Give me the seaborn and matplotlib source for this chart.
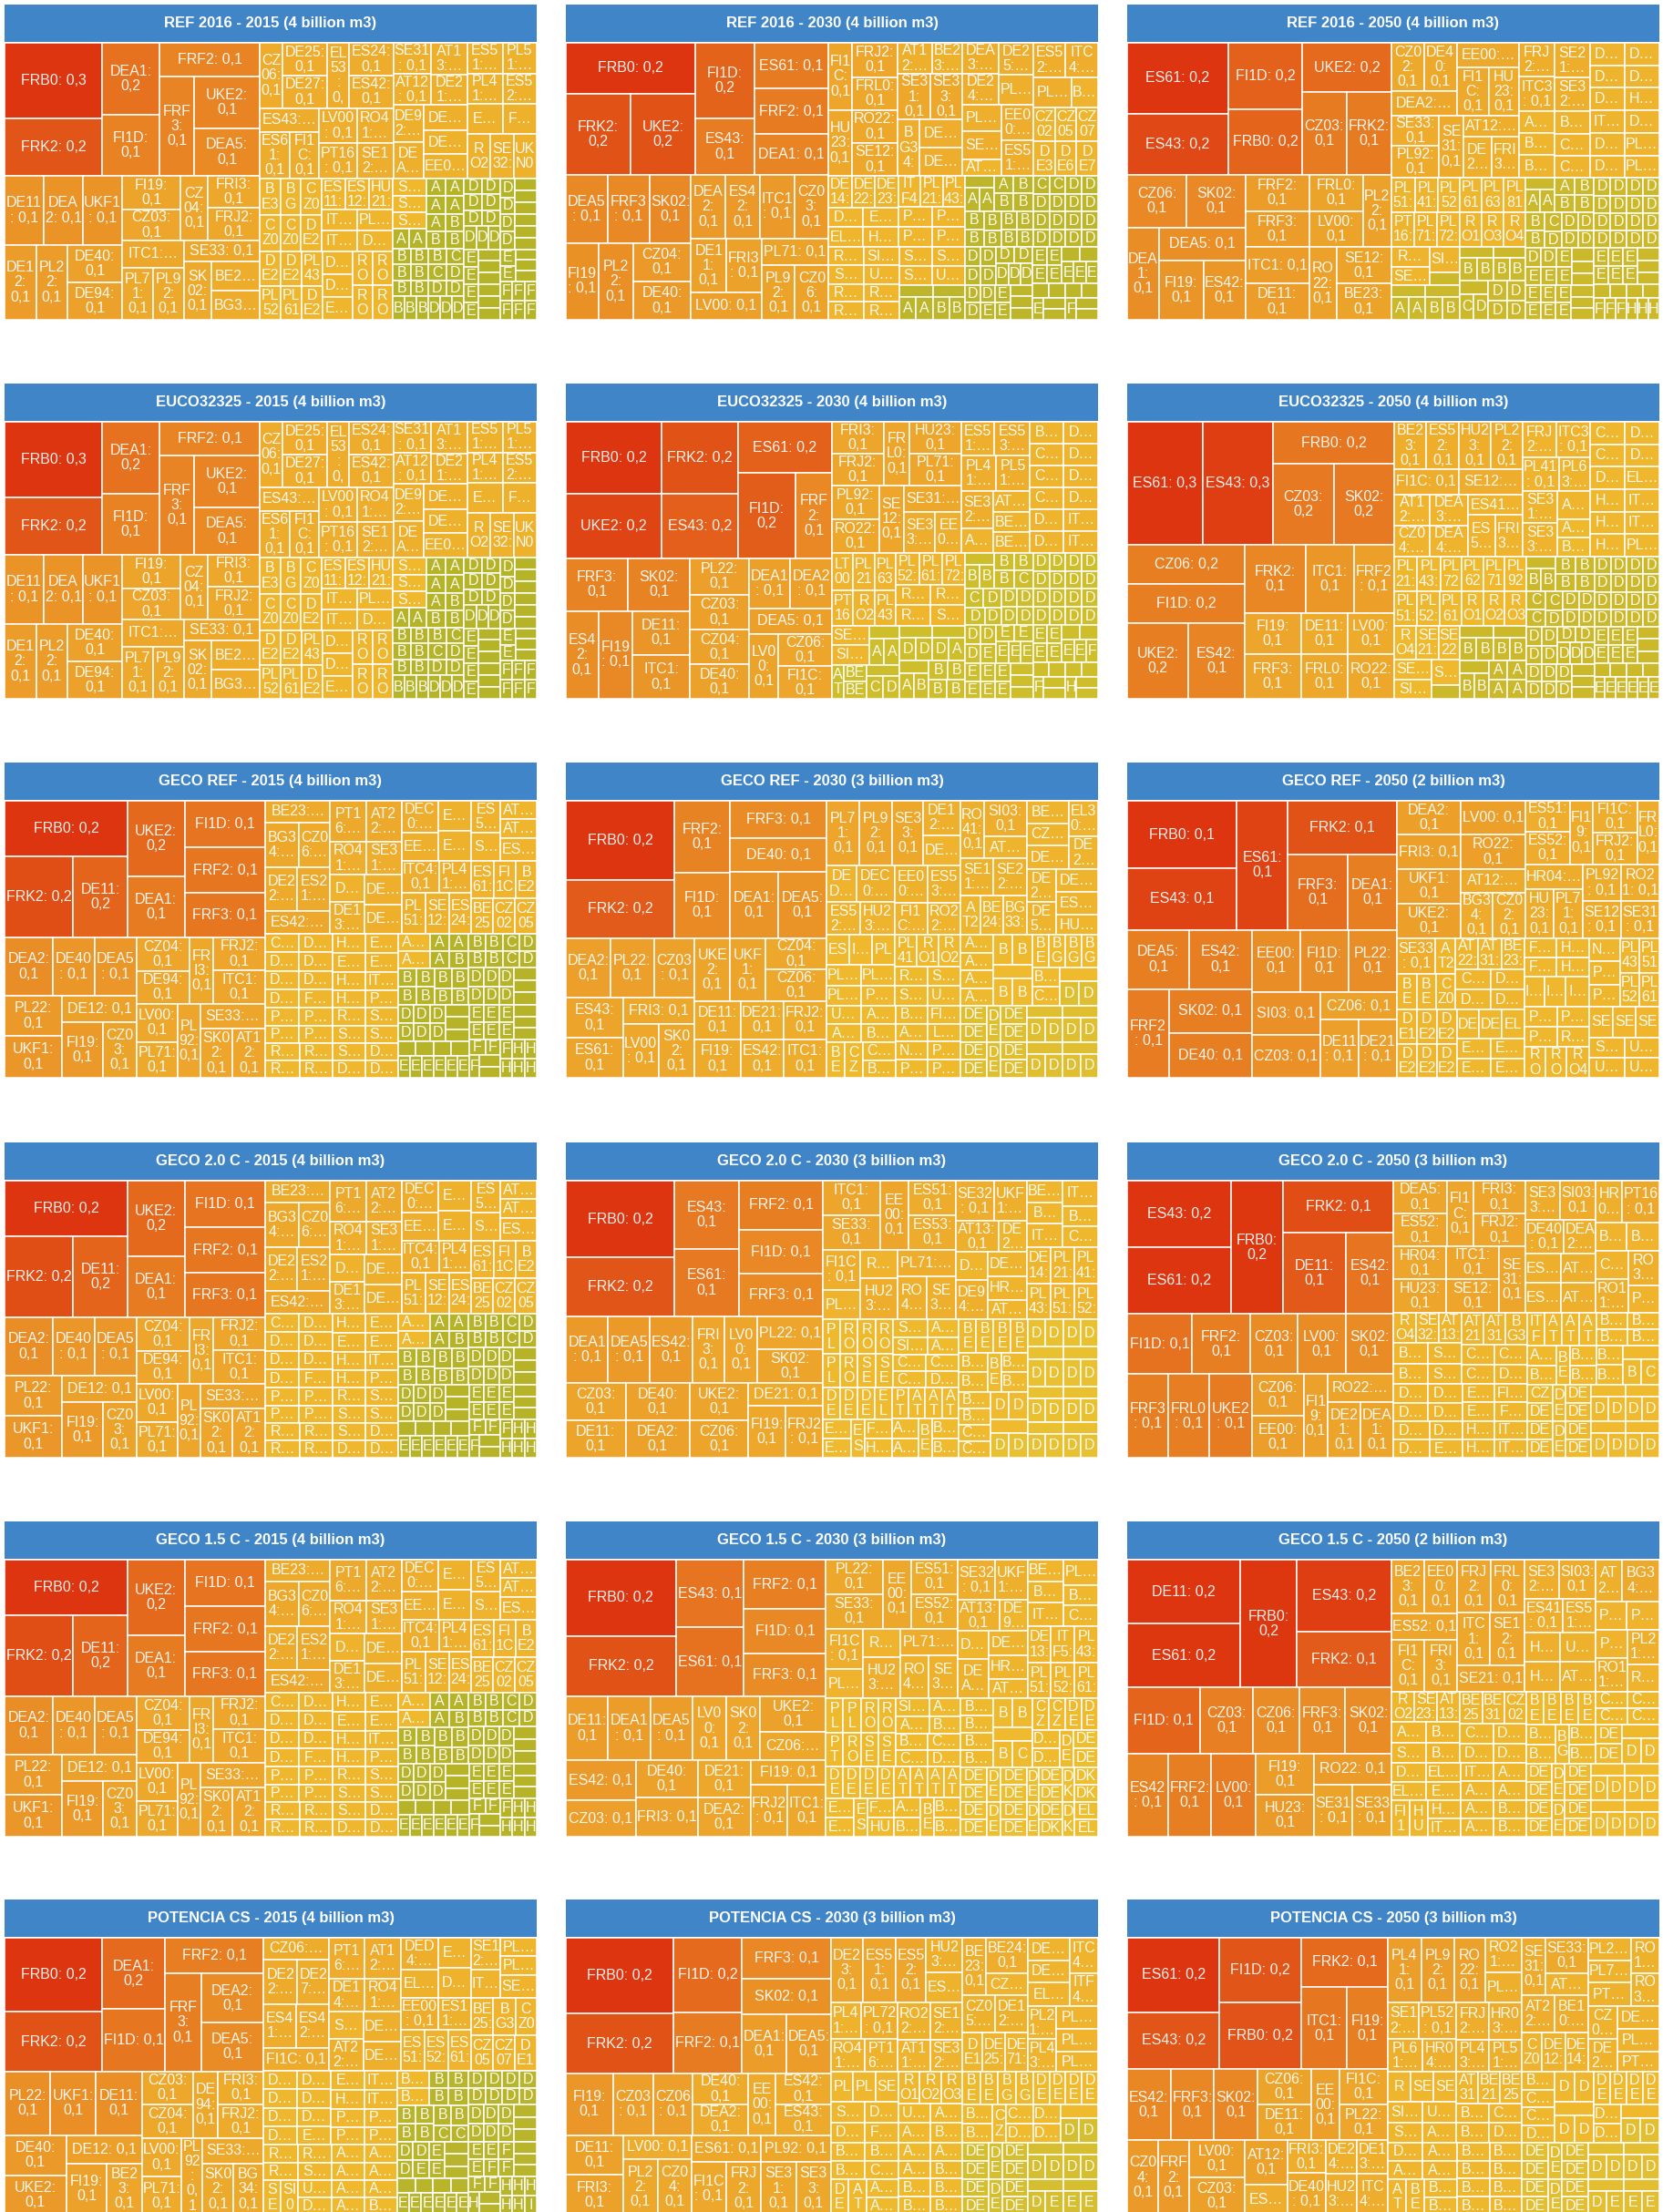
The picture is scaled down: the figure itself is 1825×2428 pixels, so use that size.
import matplotlib
matplotlib.use("Agg")
import matplotlib.pyplot as plt
from matplotlib.font_manager import FontProperties
from matplotlib.textpath import TextToPath
import numpy as np
import seaborn as sns

# values below are read off the cell areas in the picture, in million m3
# in the shapes an int is a run of cells laid out by value, ("|", a, b) is side by side, ("-", a, b) is stacked
# ---------------------------------- shared lists ----------------------------------
regions = """AT11 AT12 AT13 AT21 AT22 AT31 AT32 AT33 AT34 BE10 BE21 BE22 BE23 BE24 BE25 BE31 BE32 BE33 BE34 BE35
BG31 BG32 BG33 BG34 BG41 BG42 CZ01 CZ02 CZ03 CZ04 CZ05 CZ06 CZ07 CZ08 DE11 DE12 DE13 DE14 DE21 DE22 DE23 DE24 DE25
DE26 DE27 DE30 DE40 DE50 DE60 DE71 DE72 DE73 DE80 DE91 DE92 DE93 DE94 DEA1 DEA2 DEA3 DEA4 DEA5 DEB1 DEB2 DEB3 DEC0
DED2 DED4 DED5 DEE0 DEF0 DEG0 DK01 DK02 DK03 DK04 DK05 EE00 EL30 EL41 EL42 EL43 EL51 EL52 EL53 EL54 EL61 EL63 EL64
ES11 ES12 ES13 ES21 ES22 ES23 ES24 ES30 ES41 ES42 ES43 ES51 ES52 ES53 ES61 ES62 ES70 FI19 FI1C FI1D FRB0 FRC1 FRF1
FRF2 FRF3 FRG0 FRH0 FRI1 FRI3 FRJ1 FRJ2 FRK1 FRK2 FRL0 HR03 HR04 HU10 HU21 HU22 HU23 HU31 HU32 HU33 ITC1 ITC3 ITC4
ITF1 ITF3 ITF4 ITF5 ITG1 ITH3 ITH5 ITI1 ITI4 LT00 LU00 LV00 NL11 NL21 NL33 NL41 PL21 PL22 PL41 PL43 PL51 PL52 PL61
PL63 PL71 PL72 PL92 PT11 PT16 PT17 RO11 RO12 RO21 RO22 RO31 RO41 RO42 SE11 SE12 SE21 SE22 SE23 SE31 SE32 SE33 SI03
SI04 SK01 SK02 SK03 SK04 UKC1 UKD3 UKE2 UKF1 UKG3 UKI3 UKJ1 UKK1 UKM2 UKN0""".split()

tail_green = [13, 13, 13, 13, 13, 13, 13, 13, 13, 13, 11, 11, 11, 11, 11, 11, 11, 11, 11, 11, 11, 11, 11, 11,
              11, 11, 11, 11, 11, 11, 11, 11, 11, 11, 11, 11, 11, 11, 10, 10, 10, 10, 10, 10, 10, 10, 10, 10,
              10, 10, 10, 10, 10, 10, 10, 10, 10, 10, 9, 9, 9, 9, 9, 9, 9, 9, 9, 9]
tail_mid = [22, 22, 22, 22, 22, 22, 20, 20, 20, 20, 20, 20, 20, 20, 20, 20, 18, 18, 18, 18, 18, 18, 18, 18, 18, 18,
            18, 18, 16, 16, 16, 16, 16, 16, 16, 16, 16, 16, 16, 16]

# ---------------------------------- REF 2016 / EUCO 2015 ----------------------------------
ref15_names = """FRB0 FRK2 DEA1 FI1D FRF2 FRF3 UKE2 DEA5 DE11 DEA2 UKF1 DE12 PL22 DE40 DE94 FI19 CZ03 CZ04 FRI3 FRJ2
ITC1 PL71 PL92 SE33 SK02 BE23 BG34
CZ06 DE25 DE27 EL53 ES24 ES42 ES43 ES61 FI1C LV00 PT16 RO41 SE12
SE31 AT12 AT13 DE21 DE92 DEA3 DEA4 DE71 EE00 ES51 PL41 PL51 ES52 ES53 FRL0 RO21 SE32 UKN0
BE31 BG33 CZ02 CZ05 CZ07 DE22 ES11 ES12 HU21 ITC3 ITF5 PL21 DE13 DE23 DE24 PL43 PL52 PL61 DE26 DE50 DE73 EL30 RO11 RO12 RO31 RO42
SE11 SE21 SE22""".split()
ref15_top = [287, 221, 162, 137, 133, 133, 133, 122, 106, 106, 106, 92, 92, 80, 80, 77, 70, 68, 66, 66,
             65, 63, 63, 64, 62, 55, 55]
ref15_shape = [[[2, 2], [1, [1, 2]]], [[3, [("|", 1, 1), 2]], [[2, [1, 2]], [[1, 2], [1, [1, 2]]]]]]
ref15_q1 = [58, 58, 56, 56, 56, 56, 55, 55, 54, 52, 52, 50, 50]
ref15_q2 = [46, 46, 45, 44, 44, 43, 43, 42, 42, 42, 42, 41, 41, 41, 40, 40, 40, 40]
ref15_q3 = [29, 29, 29, 29, 29, 29, 29, 29, 29, 29, 29, 29, 28, 28, 28, 28, 28, 28, 27, 27, 27, 27, 27, 27, 27, 27]
ref15_q4 = [22, 22, 22] + tail_green

# ---------------------------------- REF 2016 2030 ----------------------------------
ref30_names = """FRB0 FRK2 UKE2 FI1D ES43 ES61 FRF2 DEA1 DEA5 FRF3 SK02 FI19 PL22 CZ04 DE40 DEA2 ES42 ITC1 CZ03 DE11 FRI3 LV00
PL71 PL92 CZ06
FI1C FRJ2 FRL0 HU23 RO22 SE12 AT12 BE23 SE31 SE33 BG34 DE12 DE21
DEA3 DE24 DE25 PL51 PL52 SE32 AT31 EE00 ES51 ES52 ITC4 PL41 BE10 CZ02 CZ05 CZ07 DE30 DE60 DE71
DE14 DE22 DE23 DE26 EL43 ES24 HU22 ITF4 PL21 PL43 PL61 PL63 PL72 PT11 RO11 SE11 SI04 UKN0 RO12 RO31 RO41 RO42 SE21 SE22 SE23 UKC1
AT21 AT22 AT32 BE21 BE25 BG31""".split()
ref30_top = [250, 200, 200, 169, 127, 129, 129, 116, 108, 108, 108, 96, 100, 85, 85, 83, 83, 83, 83, 72, 72, 74,
             69, 69, 69]
ref30_shape = [[[1, 2], [2, 3]], [[3, [("|", 1, 1), 2]], [[2, 2], [[2, 1], 3]]]]
ref30_q1 = [60, 60, 58, 58, 58, 58, 40, 36, 56, 56, 46, 46, 46]
ref30_q2 = [42, 43, 43, 40, 40, 42, 25, 43, 43, 42, 43, 43, 30, 28, 28, 28, 28, 28, 28]
ref30_q3 = [28, 28, 28, 26, 26, 26, 26, 26, 26, 26, 26, 26, 25, 25, 25, 25, 25, 25, 24, 24, 24, 24, 24, 24, 24, 24,
            15, 15, 15, 14, 14, 14]

# ---------------------------------- REF 2016 2050 ----------------------------------
ref50_names = """ES61 ES43 FI1D FRB0 UKE2 CZ03 FRK2 CZ06 SK02 DEA1 DEA5 FI19 ES42 FRF2 FRF3 ITC1 DE11 FRL0 LV00 PL22 RO22 SE12 BE23
CZ02 DE40 DEA2 EE00 FI1C HU23 SE33 PL92 SE31 AT12 DE21 FRI3
FRJ2 ITC3 SE21 SE32 AT22 BG32 BG33 BG34 CZ05 CZ07 DE12 DE13 DE14 DE22 DE23 HU21 ITF4 DE24 DE25 DE26 PL21 PL43 PL51
PL41 PL52 PT16 PL71 PL72 PL61 PL63 PL81 RO11 RO31 RO41 RO21 SE22 SI03 UKF1
AT13 AT21 AT31 AT32 BE10 BE21 BE22 BE24 BE25 BE31 BG31 BG41 CZ01 CZ04 DE27 DE30 DE50 DE60 DE71 DE72""".split()
ref50_top = [275, 237, 188, 184, 170, 141, 141, 120, 120, 113, 110, 100, 96, 88, 88, 88, 88, 75, 75, 79, 77, 76, 76]
ref50_shape = [[[2, 2], [1, 2]], [[2, [1, [1, 2]]], [[2, 2], [[2, 1], [1, 2]]]]]
ref50_q1 = [60, 60, 62, 59, 59, 56, 56, 58, 58, 46, 44, 44]
ref50_q2 = [46, 47, 47, 45, 29, 29, 31, 31, 30, 30, 30, 30, 30, 30, 30, 30, 30, 30, 30, 30, 30, 30]
ref50_q3 = [31, 31, 28, 30, 30, 29, 29, 29, 29, 29, 29, 29, 30, 27, 30, 15, 15, 15, 15, 15, 15, 15, 15, 15, 15,
            14, 14, 14, 14, 14, 14, 14, 14, 14, 14]

# ---------------------------------- EUCO32325 2030 ----------------------------------
euco30_names = """FRB0 UKE2 FRK2 ES43 ES61 FI1D FRF2 FRF3 SK02 ES42 FI19 DE11 ITC1 PL22 CZ03 CZ04 DE40 DEA1 DEA2 DEA5 LV00 CZ06 FI1C
FRI3 FRJ2 FRL0 HU23 PL71 PL92 RO22 SE12 SE31 SE33 EE00
ES51 ES53 PL41 PL51 SE32 AT11 AT12 BE10 BE21 BE22 CZ02 CZ05 DE12 DE13 DE14 CZ07 DE21 DE22 DE23 ITC3 ITF4
LT00 PL21 PL63 PT16 RO21 PL43 PL52 PL61 PL72 RO31 RO41 RO11 SE22 SE21 SI03
AT13 AT21 AT31 AT32 BE23 BE25 BG31 CZ04 DE24 DE25 DE26 DE27 DE30 DE50""".split()
euco30_top = [260, 232, 206, 184, 181, 185, 115, 123, 123, 107, 112, 95, 95, 80, 78, 76, 76, 78, 78, 78, 72, 65, 65]
euco30_shape = [[[2, 2], [1, 2]],
                [[2, [("|", 1, 1), ("-", 1, 1)]],
                 [("-", ("-", 1, 1), ("-", 1, 1)), ("-", ("-", ("|", 1, 1), 1), [1, 2])]]]
euco30_q1 = [62, 62, 62, 62, 62, 60, 60, 62, 58, 48, 40]
euco30_q2 = [42, 45, 45, 44, 44, 29, 29, 28, 28, 28, 28, 28, 28, 28, 28, 28, 28, 28, 28, 28, 28]
euco30_q3 = [30, 30, 30, 29, 29, 28, 28, 28, 27, 27, 27, 27, 27, 27, 27, 15, 15, 15, 15, 15, 15, 14, 14, 14, 14, 14,
             14, 14, 14, 14, 14, 14, 14, 14, 13, 13, 13]

# ---------------------------------- EUCO32325 2050 ----------------------------------
euco50_names = """ES61 ES43 FRB0 CZ03 SK02 CZ06 FI1D UKE2 ES42 FRK2 ITC1 FRF2 FI19 DE11 LV00 FRF3 FRL0 RO22
BE23 ES52 FI1C HU23 PL22 SE12 AT12 CZ04 DEA3 DEA4 ES41 ES53 FRI3
FRJ2 ITC3 PL41 PL63 SE31 SE33 AT13 AT22 BG34 CZ02 CZ05 DE12 DE13 DE14 EL43 HU21 HU22 HU23 ITC4 ITF4 PL51
PL21 PL43 PL72 PL51 PL52 PL61 PL62 PL71 PL92 RO11 RO21 RO31 RO41 SE21 SE22 SE32 SI03 SK03
AT21 AT31 BE10 BE21 BE22 BE24 BG31 BG32 BG33 BG41""".split()
euco50_top = [359, 333, 196, 189, 189, 178, 178, 178, 165, 160, 126, 106, 90, 75, 75, 96, 80, 80]
euco50_shape = [[2, [1, 2]], [[("-", 1, 1), 2], [3, ("-", 3, 3)]]]
euco50_q1 = [59, 59, 62, 59, 59, 62, 43, 43, 45, 45, 44, 44, 44]
euco50_q2 = [46, 47, 47, 41, 41, 45, 35, 24, 24, 30, 30, 30, 30, 30, 30, 30, 30, 30, 30, 30, 30]
euco50_q3 = [31, 31, 28, 30, 30, 29, 29, 29, 29, 29, 29, 29, 29, 29, 28, 28, 28, 28, 15, 15, 15, 15, 15, 15, 15,
             14, 14, 14, 14, 14, 14, 14]

# ---------------------------------- GECO 2015 (all three scenarios) ----------------------------------
geco15_names = """FRB0 FRK2 DE11 UKE2 DEA1 FI1D FRF2 FRF3 DEA2 DE40 DEA5 PL22 UKF1 DE12 FI19 CZ03 CZ04 DE94 FRI3 FRJ2 ITC1
LV00 PL71 PL92 SE33 SK02 AT12
BE23 BG34 CZ06 DE22 ES21 ES42 PT16 AT22 RO41 SE31 DE26 DE13 DE24 DE50
DEC0 EE00 EL53 ES11 ITC4 PL41 PL51 SE12 ES24 ES53 SE32 AT21 AT31 ES52 ES61 FI1C BE21 BE25 CZ02 CZ05
CZ07 DE14 DE21 DE23 DE25 DE27 DE30 FRL0 HR04 EL43 ES12 ES51 HU23 HU21 ITF5 PL21 PL43 PL52 PL61 PL63 RO11 RO21 RO22 RO31
RO42 SE11 SE21 SE22 SE23 DE60 DE71 DE72""".split()
geco15_top = [262, 216, 172, 168, 135, 145, 142, 140, 107, 94, 94, 90, 93, 76, 88, 72, 68, 68, 61, 65, 68,
              60, 57, 65, 62, 62, 62]
geco15_shape = [[[1, 2], [2, 3]], [[3, [2, [1, 2]]], [[[2, 1], 2], [("|", 2, 1), [1, 2]]]]]
geco15_q1 = [54, 58, 54, 54, 56, 58, 56, 56, 46, 46, 36, 42, 42, 42]
geco15_q2 = [46, 40, 38, 38, 46, 40, 38, 38, 36, 36, 32, 26, 26, 32, 32, 32, 30, 30, 30, 30]
geco15_q3 = [24, 24, 24, 24, 24, 24, 24, 24, 24, 24, 24, 24, 23, 23, 23, 23, 23, 23, 23, 23, 23, 23,
             22, 22, 22, 22, 22, 22, 22, 22, 22, 22]
geco15_q4 = [21, 21] + tail_green

# ---------------------------------- POTENCIA 2015 ----------------------------------
pot15_names = """FRB0 FRK2 DEA1 FI1D FRF2 FRF3 DEA2 DEA5 PL22 UKF1 DE11 DE40 UKE2 DE12 FI19 BE23 CZ03 CZ04 DE94 FRI3 FRJ2
LV00 PL71 PL92 SE33 SK02 BG34
CZ06 DE22 DE27 ES41 ES42 FI1C PT16 AT12 DE14 RO41 SE31 AT22 DE21 DE50
DED4 EL53 ES41 DEC0 EE00 ES11 ES51 ES52 ES61 SE12 ITC1 PL41 PL51 SE32 BE25 BG33 CZ02 CZ05 CZ07 DE13
DE23 DE24 DE25 DE26 DE30 DE60 DE71 EL43 ES24 HU21 ITC4 ITF5 PL21 PL43 PL61 PT11 RO11 RO21 RO31 SE11 SE21 SI03 UKN0 DE72""".split()
pot15_top = [278, 222, 172, 150, 136, 136, 117, 117, 112, 112, 112, 96, 93, 82, 80, 69, 65, 65, 65, 58, 58,
             60, 58, 62, 60, 60, 60]
pot15_shape = [[[2, 2], [1, [1, 2]]], [[3, [2, [1, 2]]], [[[2, 1], 2], [("|", 2, 1), [1, 2]]]]]

# ---------------------------------- GECO REF 2030 ----------------------------------
gref30_names = """FRB0 FRK2 FRF2 FI1D FRF3 DE40 DEA1 DEA5 DEA2 PL22 CZ03 ES43 ES61 FRI3 LV00 SK02 UKE2 UKF1 CZ04 CZ06
DE11 FI19 DE21 ES42 FRJ2 ITC1
PL71 PL92 SE33 DE12 DEA3 DED2 DEC0 ES52 HU23 EE00 ES53 FI1C RO22
RO41 SI03 AT13 SE11 SE22 AT21 BE24 BG33 BE31 CZ02 DE14 EL30 DE24 DE26 DE50 DE60 ES12 HU21
ES51 ITF5 PL21 PL51 PL61 PL63 PT11 PL41 RO11 RO21 RO31 SE12 SE31 UKD3 UKF1 AT12 AT22 BG34 BE23 CZ05 CZ07 BE21 BE25 AT31
FI1D LT00 NL11 PL43 PL52 PT16""".split()
gref30_top = [322, 237, 152, 138, 134, 123, 120, 120, 99, 99, 90, 86, 86, 72, 72, 72, 84, 84, 72, 72, 66, 66, 62, 62, 62, 62]
gref30_shape = [[2, [2, [("-", 1, 1), 2]]], [[3, [2, [1, 2]]], [[2, 2], [2, [2, 2]]]]]
mid_q1 = [80, 80, 75, 48, 42, 42, 52, 42, 42, 46, 46, 40, 40]
mid_q2 = [52, 56, 36, 46, 46, 30, 34, 34, 36, 36, 38, 38, 36, 36, 36, 36, 36, 32]
mid_q3 = [26, 26, 26, 26, 26, 26, 26, 26, 26, 26, 24, 24, 24, 24, 24, 24, 24, 24, 24, 24, 22, 22, 22, 22, 22, 22,
          22, 22, 22, 22]

# ---------------------------------- GECO REF 2050 ----------------------------------
gref50_names = """FRB0 ES43 ES61 FRK2 FRF3 DEA1 DEA5 ES42 FRF2 SK02 DE40 EE00 FI1D PL22 SI03 CZ03 CZ06 DE11 DE21
DEA2 FRI3 LV00 RO22 UKF1 UKE2 AT12 BG34 CZ02
ES51 ES52 FI19 FI1C FRJ2 FRL0 HR04 HU23 PL71 PL92 SE12 RO21 SE31
SE33 AT21 BE10 BE21 CZ05 AT22 AT31 BE23 CZ04 DE12 DE14 DE22 DE13 DE23 DE24 DE25 DE26 DE27 DE50 DE60 EL30 ES11 ES12 ES21 ES24
FRI1 FRF1 HR03 HU21 ITC3 ITC4 ITF4 NL11 PL21 PL41 PL43 PL51 PL52 PL61 PL63 PL72 PT11 RO11 RO31 RO41 RO42 SE11 SE21 SE32
SK03 UKD3 UKG3 UKN0""".split()
gref50_top = [282, 256, 254, 224, 172, 141, 141, 141, 143, 140, 140, 115, 115, 115, 112, 112, 82, 85, 85]
gref50_shape = [[2, [1, [1, 2]]], [[2, [1, 2]], [3, [("-", 1, 1), [1, 2]]]]]
gref50_q1 = [83, 83, 83, 84, 85, 84, 58, 56, 56]
gref50_q2 = [53, 56, 56, 53, 54, 54, 55, 54, 54, 54, 54, 54, 54]
gref50_q3 = [52, 27, 27, 27, 27, 27, 27, 27, 27, 27, 26, 26, 26, 26, 26, 26, 26, 26, 25, 25, 25, 25, 25, 25, 25]
gref50_q4 = [24, 24, 24, 24, 24, 24, 27, 27, 27, 26, 26, 26, 26, 26, 25, 25, 25, 25, 25, 25, 27, 27, 27, 27, 27, 27, 27, 27]

# ---------------------------------- GECO 2.0 C 2030 ----------------------------------
g20_30_names = """FRB0 FRK2 ES43 ES61 FRF2 FI1D FRF3 DEA1 DEA5 ES42 FRI3 LV00 PL22 SK02 CZ03 DE11 DE40 DEA2 UKE2 CZ06 DE21 FI19 FRJ2
ITC1 SE33 EE00 ES51 ES53 FI1C PL92 RO22 HU23 PL71 RO41 SE31
SE32 UKF1 AT13 DE22 DE25 DE94 DE12 HR04 AT21 BE23 BG33 ITC4 ITF4 BG34 CZ04 DE14 PL21 PL41 PL43 PL51 PL52
PL72 RO21 PL63 RO11 RO12 RO31 SE12 SE21 SE22 SI03 AT12 AT22 CZ02 CZ05 CZ07 DE13 DE23 DE24 DE26 EL30 EL43 ES11 ES24 FI1D HU21 PT11""".split()
g20_30_top = [320, 248, 170, 170, 157, 142, 137, 107, 107, 107, 83, 83, 81, 85, 86, 86, 92, 92, 84, 84, 66, 74, 74]
g20_30_shape = [[2, [2, 3]], ("-", [3, [("|", 1, 1), ("-", 1, 1)]], [[2, 2], [2, [1, 2]]])]
g30_q1 = [76, 76, 76, 62, 62, 58, 42, 42, 60, 60, 48, 48]
g30_q2 = [59, 51, 51, 34, 34, 48, 36, 36, 30, 30, 30, 33, 34, 28, 28, 33, 33, 33, 33, 33, 33]
g30_q3 = [23, 23, 23, 23, 23, 23, 23, 23, 23, 23, 21, 21, 21, 21, 21, 21, 21, 21, 21, 21, 21, 21,
          20, 20, 20, 20, 20, 20, 20, 20, 20, 20, 20, 20]

# ---------------------------------- GECO 2.0 C 2050 ----------------------------------
g20_50_names = """ES43 ES61 FRB0 FRK2 DE11 ES42 FI1D FRF2 CZ03 LV00 SK02 FRF3 FRL0 UKE2 CZ06 EE00 FI19 RO22 DE21 DEA1
DEA5 ES52 FI1C FRI3 FRJ2 HR04 HU23 ITC1 SE12 SE31
SE33 SI03 DE40 DEA2 ES41 ES53 AT12 AT22 HR03 PT16 BE23 BG34 CZ02 RO11 RO31 PL63
RO41 SE32 AT13 BE10 BE21 SE21 SE23 AT21 AT31 BG33 CZ04 CZ05 CZ07 DE12 DE13 DE14 DE22 DE23 DE24 DE25 DK01 EL30 ES11 ES12 FI1D
FRI1 HU21 HU22 ITC3 ITC4 ITF4""".split()
g50_q1 = [68, 68, 68, 65, 65, 68, 68, 65, 68, 68]
g50_q2 = [52, 54, 51, 42, 41, 41, 40, 40, 43, 60, 33, 35, 35, 42, 42, 33]
g50_q3 = [27, 27, 27, 27, 27, 27, 27, 27, 27, 27, 25, 25, 25, 25, 25, 25, 25, 25, 25, 25,
          23, 23, 23, 23, 23, 23, 23, 23, 23, 23]
g20_50_top = [268, 268, 266, 220, 200, 150, 151, 134, 111, 111, 111, 132, 133, 138, 83, 83, 77, 70, 71, 71]
g20_50_shape = [[2, [1, [1, 2]]], ("-", [2, 3], [[1, 2], [2, [1, [1, 2]]]])]

# ---------------------------------- GECO 1.5 C 2030 ----------------------------------
g15_30_names = """FRB0 FRK2 ES43 ES61 FRF2 FI1D FRF3 DE11 DEA1 DEA5 LV00 SK02 UKE2 CZ06 ES42 CZ03 DE40 FRI3 DE21 DEA2 FI19 FRJ2 ITC1
PL22 SE33 EE00 ES51 ES52 FI1C PL92 RO22 HU23 PL71 RO41 SE31
SE32 UKF1 AT13 DE94 DE12 DEA3 DE14 HR04 AT21 BE23 BG33 ITC4 PL41 BG34 CZ04 DE13 ITF5 PL43 PL51 PL52 PL61
PL21 PL72 PT16 RO21 RO11 RO31 SE12 SE21 SI03 AT12 AT22 BE21 BE25 CZ02 CZ05 DE22 DE23 DE24 DE26 DE50 EL30 ES11 ES24 FI1D HU21""".split()
g15_30_top = [326, 259, 179, 183, 157, 142, 137, 105, 105, 105, 84, 84, 91, 72, 109, 99, 91, 94, 77, 80, 73, 74, 77]
g15_30_shape = [[2, [2, 3]], ("-", [3, [("|", 1, 1), ("-", 1, 1)]], [[2, 2], [2, [1, 2]]])]

# ---------------------------------- GECO 1.5 C 2050 ----------------------------------
g15_50_names = """DE11 ES61 FRB0 ES43 FRK2 FI1D CZ03 CZ06 FRF3 SK02 ES42 FRF2 LV00 FI19 HU23 RO22 SE31 SE33
BE23 EE00 ES52 FI1C FRI3 FRJ2 FRL0 ITC1 SE12 SE21
SE32 SI03 ES41 ES51 HR03 HR04 UKE2 AT12 AT22 BG34 PL63 PT16 PL72 RO11 PL21 RO12
RO21 SE23 AT13 AT21 SK03 BG33 BE21 BE25 BE31 CZ02 CZ04 DE12 DE13 DE14 DE22 EL30 EL43 ES11 FI1D HU21 HU22 ITC3 ITF5""".split()
g15_50_top = [278, 276, 276, 260, 204, 185, 135, 117, 117, 117, 130, 137, 142, 90, 94, 91, 77, 77]
g15_50_shape = [[2, [1, 2]], ("-", [2, 3], [[1, 2], [2, [1, 2]]])]

# ---------------------------------- POTENCIA 2030 ----------------------------------
pot30_names = """FRB0 FRK2 FI1D FRF2 FRF3 SK02 DEA1 DEA5 FI19 CZ03 CZ06 DE40 DEA2 EE00 ES42 ES43 DE11 FRI3 LV00 PL22 CZ04 ES61 PL92
FI1C FRJ2 SE31 SE33
DE23 ES51 ES52 HU23 ES53 PL41 PL72 RO41 PT16 RO22 SE12 AT11 SE32
BE23 BE24 CZ02 CZ05 DE12 DE14 DE25 DE71 DE24 DE26 EL30 ITC4 ITF4 PL21 PL43 PL51 PL52 PL61
PL63 PL71 SE21 SE22 DE13 DE22 FRL0 RO11 RO21 RO31 UKF1 AT12 AT22 BE21 BE25 BG33 BG34 CZ07 DE27""".split()
pot30_top = [312, 247, 195, 161, 138, 121, 101, 101, 111, 94, 94, 65, 65, 65, 65, 65, 87, 87, 63, 73, 72, 72, 72, 70, 70, 70, 70]
pot30_shape = [[2, [2, [("-", 1, 1), 2]]],
               ("-", [3, [[("-", 1, 1), 1], ("-", 1, 1)]],
                [[("-", 1, 1), [1, 2]], ("-", ("|", 1, 1), [2, 2])])]

# ---------------------------------- POTENCIA 2050 ----------------------------------
pot50_names = """ES61 ES43 FI1D FRB0 FRK2 ITC1 FI19 ES42 FRF3 SK02 CZ06 DE11 EE00 FI1C PL22 CZ04 FRF2 LV00 CZ03 AT12 ES41 FRI3 DE40
DE24 DE13 HU23 ITC4
PL41 PL92 RO22 RO21 PL63 SE12 PL52 PL61 HR04 FRJ2 HR03 PL43 PL51
SE31 SE33 AT21 AT22 BE10 CZ02 DE12 DE14 PL21 PL71 PT16 RO11 RO31 CZ05 DE21 DEA3 PL72 PT11
RO41 SE21 SE32 SI03 SK03 UKF1 AT13 AT31 BE21 BE25 BG33 BG34 CZ07 DE22 DE23""".split()
pot50_top = [259, 199, 200, 204, 161, 142, 128, 116, 116, 116, 71, 71, 76, 65, 65, 87, 87, 78, 78, 72, 48, 48, 60, 40, 40, 48, 48]
pot50_shape = [[[2, 2], [1, 2]],
               ("-", [3, [("-", 1, 1), [1, ("-", 1, 1)]]], [[("|", 1, 1), ("-", 1, 1)], 8])]

scenarios = ["REF 2016", "EUCO32325", "GECO REF", "GECO 2.0 C", "GECO 1.5 C", "POTENCIA CS"]
years = [2015, 2030, 2050]
billions = [[4, 4, 4], [4, 4, 4], [4, 3, 2], [4, 3, 3], [4, 3, 2], [4, 3, 3]]

# names, top values, shape of the top, right part lists, label factor, value where olive starts, olive colour
OLIVE = 16
MID = 19
panels = [
    [ref15_names, ref15_top, ref15_shape, ref15_q1, ref15_q2, ref15_q3, ref15_q4, 1.0, OLIVE, "#B5B428"],
    [ref30_names, ref30_top, ref30_shape, ref30_q1, ref30_q2, ref30_q3, tail_green, 1.0, OLIVE, "#BEB62A"],
    [ref50_names, ref50_top, ref50_shape, ref50_q1, ref50_q2, ref50_q3, tail_green, 0.895, OLIVE, "#CBB92B"],
    [ref15_names, ref15_top, ref15_shape, ref15_q1, ref15_q2, ref15_q3, ref15_q4, 1.0, OLIVE, "#B5B428"],
    [euco30_names, euco30_top, euco30_shape, euco30_q1, euco30_q2, euco30_q3, tail_green, 0.9, OLIVE, "#CFBE2B"],
    [euco50_names, euco50_top, euco50_shape, euco50_q1, euco50_q2, euco50_q3, tail_green, 0.86, OLIVE, "#CBB92B"],
    [geco15_names, geco15_top, geco15_shape, geco15_q1, geco15_q2, geco15_q3, geco15_q4, 0.92, OLIVE, "#B6B328"],
    [gref30_names, gref30_top, gref30_shape, mid_q1, mid_q2, mid_q3, tail_mid, 0.75, MID, "#DFBF30"],
    [gref50_names, gref50_top, gref50_shape, gref50_q1, gref50_q2, gref50_q3, gref50_q4, 0.5, 0, "#EFBE30"],
    [geco15_names, geco15_top, geco15_shape, geco15_q1, geco15_q2, geco15_q3, geco15_q4, 0.92, OLIVE, "#B6B328"],
    [g20_30_names, g20_30_top, g20_30_shape, g30_q1, g30_q2, g30_q3, tail_mid, 0.75, MID, "#E8C030"],
    [g20_50_names, g20_50_top, g20_50_shape, g50_q1, g50_q2, g50_q3, tail_mid, 0.65, 0, "#EFBE30"],
    [geco15_names, geco15_top, geco15_shape, geco15_q1, geco15_q2, geco15_q3, geco15_q4, 0.92, OLIVE, "#B6B328"],
    [g15_30_names, g15_30_top, g15_30_shape, g30_q1, g30_q2, g30_q3, tail_mid, 0.75, MID, "#EDBF30"],
    [g15_50_names, g15_50_top, g15_50_shape, g50_q1, g50_q2, g50_q3, tail_mid, 0.7, 0, "#EFBE30"],
    [pot15_names, pot15_top, pot15_shape, geco15_q1, geco15_q2, geco15_q3, geco15_q4, 0.88, OLIVE, "#B8B42B"],
    [pot30_names, pot30_top, pot30_shape, mid_q1, mid_q2, mid_q3, tail_mid, 0.78, MID, "#D5BE30"],
    [pot50_names, pot50_top, pot50_shape, mid_q1, mid_q2, mid_q3, tail_mid, 0.79, MID, "#E3BE30"],
]

# ---------------------------------- drawing ----------------------------------
FIG_W, FIG_H = 1825, 2428
COL_X = [5, 621, 1237]
ROW_Y = [5, 421, 837, 1254, 1670, 2085]
PANEL_W = 584
TITLE_H = 41
CELLS_TOP = 42
CELLS_H = 304
LINE_PX = 16.7
FONT_PT = 11.5

sns.set_theme(style="white")
plt.rcParams["font.family"] = ["Liberation Sans", "DejaVu Sans"]

ramp = sns.blend_palette(["#F0BD2E", "#ECA02A", "#E67520", "#DD3510"], n_colors=101)
font = FontProperties(family="Liberation Sans", size=FONT_PT)
t2p = TextToPath()
char_w = {}


def tw(s):
    total = 0.0
    for c in s:
        if c not in char_w:
            char_w[c] = t2p.get_text_width_height_descent(c, font, False)[0] * 100 / 72
        total += char_w[c]
    return total


def wrap(text, avail):
    lines = []
    ends = []
    pos = 0
    while pos < len(text):
        rest = text[pos:]
        if tw(rest) <= avail:
            lines.append(rest)
            ends.append(len(text))
            break
        n = 0
        while n < len(rest) and tw(rest[:n + 1]) <= avail:
            n += 1
        n = max(n, 1)
        sp = rest[:n + 1].rfind(" ")
        if sp > 0:
            lines.append(rest[:sp])
            pos += sp + 1
        else:
            lines.append(rest[:n])
            pos += n
        ends.append(pos)
    return lines, ends


def fit_label(text, w, h):
    max_lines = int(h / LINE_PX)
    if max_lines < 1 or w < 8:
        return ""
    avail = w - 2
    lines, ends = wrap(text, avail)
    if len(lines) <= max_lines:
        return "\n".join(lines)
    start = ends[max_lines - 2] if max_lines > 1 else 0
    rest = text[start:]
    best = ""
    for n in range(1, len(rest) + 1):
        if tw(rest[:n]) + tw("…") <= avail:
            best = rest[:n].rstrip() + "…"
    kept = lines[:max_lines - 1] + [best if best else lines[max_lines - 1]]
    return "\n".join(kept)


def count(node):
    if isinstance(node, int):
        return node
    if isinstance(node, tuple):
        return count(node[1]) + count(node[2])
    return sum(count(n) for n in node)


def cut(first, total, rect, direction=None):
    x, y, w, h = rect
    share = first / total
    if direction is None:
        direction = "|" if w >= h else "-"
    if direction == "|":
        return (x, y, w * share, h), (x + w * share, y, w * (1 - share), h)
    return (x, y, w, h * share), (x, y + h * share, w, h * (1 - share))


def auto(vals, i, j, rect, out):
    if j - i == 1:
        out.append((i,) + rect)
        return
    part = vals[i:j]
    total = sum(part)
    run = np.cumsum(part)[:-1]
    k = int(np.argmin(np.abs(run - total / 2)))
    a, b = cut(run[k], total, rect)
    auto(vals, i, i + k + 1, a, out)
    auto(vals, i + k + 1, j, b, out)


def walk(node, vals, i, rect, out):
    n = count(node)
    if isinstance(node, int):
        auto(vals, i, i + n, rect, out)
        return
    if isinstance(node, tuple):
        direction, first, second = node
    else:
        direction, first, second = None, node[0], node[1]
    left = count(first)
    a, b = cut(sum(vals[i:i + left]), sum(vals[i:i + n]), rect, direction)
    walk(first, vals, i, a, out)
    walk(second, vals, i + left, b, out)


def cell_colour(v, vmax, low_below, low_colour):
    if v < low_below:
        return low_colour
    p = np.interp(v / vmax, [0.03, 0.3, 0.55, 1.0], [0, 1 / 3, 2 / 3, 1])
    return ramp[int(round(p * 100))]


fig = plt.figure(figsize=(FIG_W / 100, FIG_H / 100), dpi=100, facecolor="white")

for idx, spec in enumerate(panels):
    names, top, shape, q1, q2, q3, q4, factor, low_below, low_colour = spec
    row, col = divmod(idx, 3)
    vals = list(top) + list(q1) + list(q2) + list(q3) + list(q4)
    full_names = list(names)
    spare = [r for r in regions if r not in full_names]
    while len(full_names) < len(vals):
        full_names.append(spare.pop(0) if spare else "UK")

    total_h = CELLS_TOP + CELLS_H
    ax = fig.add_axes([COL_X[col] / FIG_W, 1 - (ROW_Y[row] + total_h) / FIG_H, PANEL_W / FIG_W, total_h / FIG_H])
    ax.set_xlim(0, PANEL_W)
    ax.set_ylim(total_h, 0)
    ax.axis("off")

    ax.bar(0, TITLE_H, width=PANEL_W, bottom=0, align="edge", color="#3F85C8", linewidth=0)
    ax.text(PANEL_W / 2, TITLE_H / 2, f"{scenarios[row]} - {years[col]} ({billions[row][col]} billion m3)",
            ha="center", va="center", color="white", fontsize=12, fontweight="bold")

    tree = [shape, [[len(q1), len(q2)], [len(q3), len(q4)]]]
    out = []
    walk(tree, vals, 0, (0.0, float(CELLS_TOP), float(PANEL_W), float(CELLS_H)), out)

    vmax = max(vals)
    ax.bar([o[1] for o in out], [o[4] for o in out], width=[o[3] for o in out], bottom=[o[2] for o in out],
           align="edge", color=[cell_colour(vals[o[0]], vmax, low_below, low_colour) for o in out],
           edgecolor="white", linewidth=1.1)

    for i, x, y, w, h in out:
        bcm = max(vals[i] * factor / 1000, 0.1)
        label = f"{full_names[i]}: {bcm:.1f}".replace(".", ",")
        shown = fit_label(label, w, h)
        if shown:
            ax.text(x + w / 2, y + h / 2, shown, ha="center", va="center", color="white", alpha=0.92,
                    fontsize=FONT_PT, linespacing=1.1)

fig.savefig("out.png", dpi=100, facecolor="white")
